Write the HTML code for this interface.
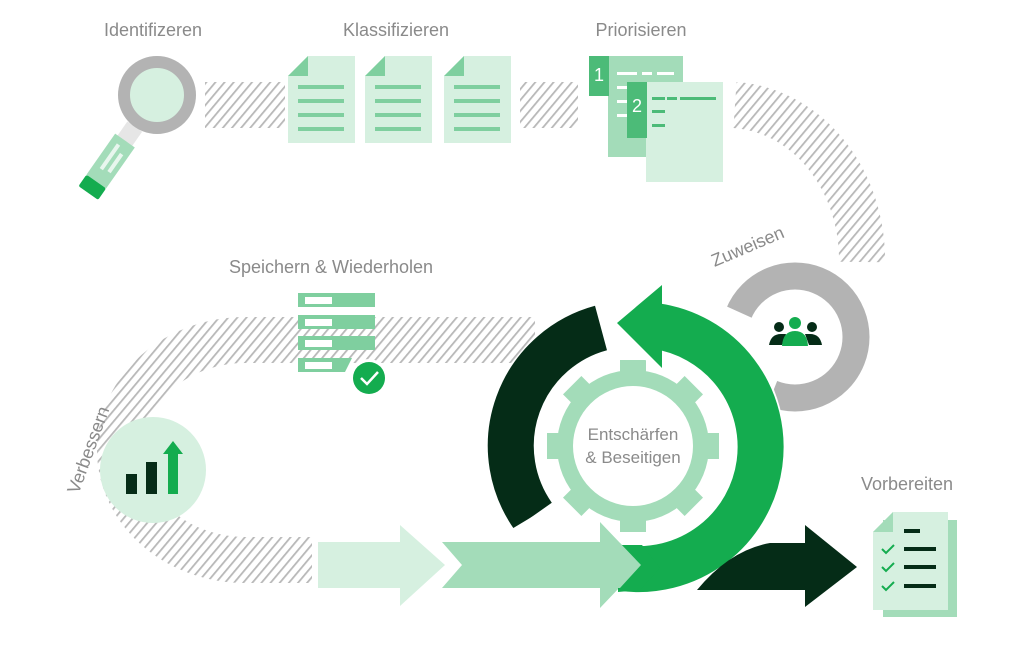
<!DOCTYPE html>
<html><head><meta charset="utf-8"><style>
html,body{margin:0;padding:0;background:#fff;}
svg{display:block;}
text{font-family:"Liberation Sans",sans-serif;fill:#8a8a8a;}
</style></head><body>
<svg width="1024" height="652" viewBox="0 0 1024 652" xmlns="http://www.w3.org/2000/svg">
<defs>
<pattern id="h" width="7" height="7" patternUnits="userSpaceOnUse" patternTransform="rotate(40)">
<rect x="0" y="0" width="1.8" height="7" fill="#b8b8b8"/>
</pattern>
</defs>
<rect width="1024" height="652" fill="#fff"/>

<!-- hatch bands -->
<rect x="205" y="82" width="80" height="46" fill="url(#h)"/>
<rect x="520" y="82" width="58" height="46" fill="url(#h)"/>
<path d="M735 105 A135 155 0 0 1 862 262" fill="none" stroke="url(#h)" stroke-width="46"/>
<path d="M535 340 L245 340 A125 110 0 0 0 245 560 L312 560" fill="none" stroke="url(#h)" stroke-width="46"/>

<!-- labels -->
<text x="153" y="36" font-size="18" text-anchor="middle">Identifizeren</text>
<text x="396" y="36" font-size="18" text-anchor="middle">Klassifizieren</text>
<text x="641" y="36" font-size="18" text-anchor="middle">Priorisieren</text>
<text x="331" y="273" font-size="18" text-anchor="middle">Speichern &amp; Wiederholen</text>
<text x="907" y="490" font-size="18" text-anchor="middle">Vorbereiten</text>
<text x="0" y="0" font-size="18" text-anchor="middle" transform="translate(750,252) rotate(-23)">Zuweisen</text>
<text x="0" y="0" font-size="18" text-anchor="middle" transform="translate(94,452) rotate(-70)">Verbessern</text>

<!-- magnifier -->
<g transform="translate(100,178) rotate(35)">
<rect x="-10" y="-62" width="18" height="20" fill="#e6e6e6"/>
<rect x="-13" y="-45" width="24" height="50" fill="#a3dcb9"/>
<rect x="-6" y="-38" width="4" height="30" fill="#e8f6ee"/>
<rect x="2" y="-32" width="4" height="22" fill="#e8f6ee"/>
<rect x="-13" y="5" width="24" height="14" rx="2" fill="#14ac4f"/>
</g>
<circle cx="157" cy="95" r="33" fill="#d6f0e0" stroke="#b3b3b3" stroke-width="12"/>

<!-- docs -->
<g id="d1">
<path d="M288 76 L308 56 L355 56 L355 143 L288 143 Z" fill="#d6f0e0"/>
<path d="M288 76 L308 56 L308 76 Z" fill="#7fcf9f"/>
<g fill="#7fcf9f"><rect x="298" y="85" width="46" height="4"/><rect x="298" y="99" width="46" height="4"/><rect x="298" y="113" width="46" height="4"/><rect x="298" y="127" width="46" height="4"/></g>
</g>
<use href="#d1" x="77"/>
<use href="#d1" x="156"/>

<!-- priority docs -->
<rect x="608" y="56" width="75" height="101" fill="#a3dcb9"/>
<rect x="589" y="56" width="20" height="40" fill="#4cbb78"/>
<text x="599" y="81" font-size="18" text-anchor="middle" style="fill:#fff">1</text>
<g fill="#fff"><rect x="617" y="72" width="20" height="3"/><rect x="642" y="72" width="10" height="3"/><rect x="657" y="72" width="17" height="3"/><rect x="617" y="86" width="10" height="3"/><rect x="617" y="100" width="10" height="3"/><rect x="617" y="114" width="10" height="3"/></g>
<rect x="646" y="82" width="77" height="100" fill="#d6f0e0"/>
<rect x="627" y="82" width="20" height="56" fill="#4cbb78"/>
<text x="637" y="112" font-size="18" text-anchor="middle" style="fill:#fff">2</text>
<g fill="#4cbb78"><rect x="652" y="97" width="13" height="3"/><rect x="667" y="97" width="10" height="3"/><rect x="680" y="97" width="36" height="3"/><rect x="652" y="110" width="13" height="3"/><rect x="652" y="124" width="13" height="3"/></g>

<!-- server -->
<g fill="#7fcf9f"><rect x="298" y="293" width="77" height="14"/><rect x="298" y="315" width="77" height="14"/><rect x="298" y="336" width="77" height="14"/><path d="M298 358 L352 358 L345 372 L298 372 Z"/></g>
<g fill="#fff"><rect x="305" y="297" width="27" height="7"/><rect x="305" y="319" width="27" height="7"/><rect x="305" y="340" width="27" height="7"/><rect x="305" y="362" width="27" height="7"/></g>
<circle cx="369" cy="378" r="19" fill="#fff"/>
<circle cx="369" cy="378" r="16" fill="#14ac4f"/>
<path d="M361 378 L367 384 L378 372" fill="none" stroke="#fff" stroke-width="2.5"/>

<!-- verbessern -->
<circle cx="153" cy="470" r="53" fill="#d6f0e0"/>
<rect x="126" y="474" width="11" height="20" fill="#052c17"/>
<rect x="146" y="462" width="11" height="32" fill="#052c17"/>
<rect x="168" y="452" width="10" height="42" fill="#14ac4f"/>
<path d="M163 454 L173 441 L183 454 Z" fill="#14ac4f"/>

<!-- gray ring -->
<circle cx="795" cy="337" r="61" fill="none" stroke="#b3b3b3" stroke-width="27"/>
<path d="M772 394 A61 61 0 0 1 739 312" fill="none" stroke="#fff" stroke-width="31"/>
<!-- people -->
<g fill="#052c17"><circle cx="779" cy="327" r="5"/><circle cx="812" cy="327" r="5"/>
<path d="M769 345 Q771 334 781 334 L786 334 L782 345 Z"/><path d="M822 345 Q820 334 810 334 L805 334 L809 345 Z"/></g>
<g fill="#14ac4f"><circle cx="795" cy="323" r="6"/><path d="M782 346 Q783 331 795 331 Q807 331 808 346 Z"/></g>

<!-- light arrows -->
<path d="M318 542 L400 542 L400 525 L445 565 L400 606 L400 588 L318 588 Z" fill="#d6f0e0"/>
<path d="M442 542 L600 542 L600 522 L641 565 L600 608 L600 588 L442 588 L462 565 Z" fill="#a3dcb9"/>

<!-- gear -->
<g transform="translate(633,446)" fill="#a3dcb9">
<circle r="76"/>
<g><rect x="-13" y="-86" width="26" height="20"/><rect x="-13" y="66" width="26" height="20"/><rect x="-86" y="-13" width="20" height="26"/><rect x="66" y="-13" width="20" height="26"/></g>
<g transform="rotate(45)"><rect x="-13" y="-86" width="26" height="20"/><rect x="-13" y="66" width="26" height="20"/><rect x="-86" y="-13" width="20" height="26"/><rect x="66" y="-13" width="20" height="26"/></g>
<circle r="60" fill="#fff"/>
</g>
<text x="633" y="440" font-size="17" text-anchor="middle">Entschärfen</text>
<text x="633" y="463" font-size="17" text-anchor="middle">&amp; Beseitigen</text>

<!-- dark arc -->
<path d="M533 516 A122 122 0 0 1 601 328" fill="none" stroke="#052c17" stroke-width="46"/>
<path d="M510 530 L590 530 L560 500 Z" fill="#fff"/>

<!-- green arc with white halo -->
<path d="M662 328 A122 122 0 0 1 622 568" fill="none" stroke="#fff" stroke-width="60"/>
<path d="M662 283 L614 323 L662 369 Z" fill="#fff" stroke="#fff" stroke-width="10" stroke-linejoin="round"/>
<path d="M655 326 A122 122 0 0 1 622 568" fill="none" stroke="#14ac4f" stroke-width="46"/>
<path d="M662 285 L617 323 L662 368 Z" fill="#14ac4f"/>
<path d="M640 590 L660 568 L642 545 L618 545 L618 592 Z" fill="#14ac4f"/>
<path d="M641 565 L620 543 L612 543 L612 588 L620 588 Z" fill="#a3dcb9"/>

<!-- dark arrow -->
<path d="M697 590 Q730 550 770 543 L805 543 L805 525 L857 567 L805 607 L805 590 Z" fill="#052c17"/>

<!-- checklist -->
<rect x="883" y="520" width="74" height="97" fill="#a3dcb9"/>
<path d="M873 532 L893 512 L948 512 L948 610 L873 610 Z" fill="#d6f0e0"/>
<path d="M873 532 L893 512 L893 532 Z" fill="#a3dcb9"/>
<g fill="#052c17"><rect x="904" y="529" width="16" height="4"/><rect x="904" y="547" width="32" height="4"/><rect x="904" y="565" width="32" height="4"/><rect x="904" y="584" width="32" height="4"/></g>
<g fill="none" stroke="#14ac4f" stroke-width="2"><path d="M882 549 L886 553 L894 545"/><path d="M882 567 L886 571 L894 563"/><path d="M882 586 L886 590 L894 582"/></g>
</svg>
</body></html>
